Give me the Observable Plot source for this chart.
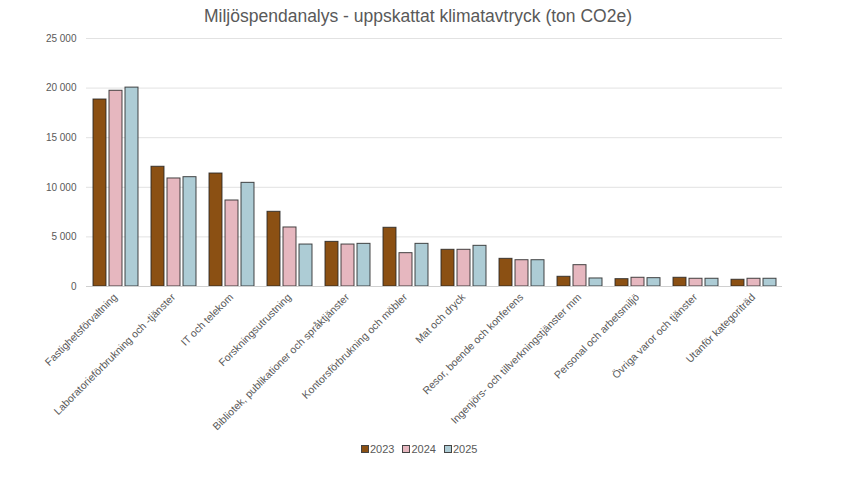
<!DOCTYPE html>
<html>
<head>
<meta charset="utf-8">
<script src="https://cdn.jsdelivr.net/npm/d3@7"></script>
<script src="https://cdn.jsdelivr.net/npm/@observablehq/plot@0.6"></script>
<style>
  html, body { margin: 0; padding: 0; background: #fff; }
  body { width: 848px; height: 477px; position: relative; overflow: hidden; font-family: "Liberation Sans", Arial, sans-serif; }
  #title { position: absolute; left: 0; top: 4px; width: 836px; text-align: center; font-size: 17.5px; color: #595959; line-height: 24px; }
  #chart { position: absolute; left: 0; top: 30px; }
  #legend { position: absolute; left: 361px; top: 441px; font-size: 11px; color: #595959; display: flex; gap: 8px; line-height: 16px; }
  #legend span.item { display: flex; align-items: center; }
  #legend span.sw { display: inline-block; width: 6px; height: 6px; border: 1px solid #444; margin-right: 1px; }
</style>
</head>
<body>
<div id="title">Miljöspendanalys - uppskattat klimatavtryck (ton CO2e)</div>
<div id="chart"></div>
<div id="legend"></div>
<script>
const categories = [
  "Fastighetsförvaltning",
  "Laboratorieförbrukning och -tjänster",
  "IT och telekom",
  "Forskningsutrustning",
  "Bibliotek, publikationer och språktjänster",
  "Kontorsförbrukning och möbler",
  "Mat och dryck",
  "Resor, boende och konferens",
  "Ingenjörs- och tillverkningstjänster mm",
  "Personal och arbetsmiljö",
  "Övriga varor och tjänster",
  "Utanför kategoriträd"
];
const years = ["2023", "2024", "2025"];
const values2023 = [18850, 12070, 11390, 7530, 4500, 5920, 3700, 2790, 980, 740, 880, 680];
const values2024 = [19730, 10890, 8670, 5950, 4230, 3360, 3700, 2650, 2150, 880, 780, 780];
const values2025 = [20050, 11020, 10450, 4230, 4300, 4300, 4100, 2650, 810, 840, 780, 780];
const yTicks = [0, 5000, 10000, 15000, 20000, 25000];
const colors = ["#8B5013", "#E6B7BF", "#ADCCD5"];

const series = [values2023, values2024, values2025];
const data = [];
categories.forEach((c, i) => {
  years.forEach((y, j) => data.push({cat: c, year: y, value: series[j][i]}));
});

const fmt = d3.formatLocale({decimal: ",", thousands: " ", grouping: [3], currency: ["", ""]}).format(",d");

const chart = Plot.plot({
  width: 848,
  height: 410,
  marginLeft: 85,
  marginRight: 66,
  marginTop: 8,
  marginBottom: 154,
  style: {fontFamily: "'Liberation Sans', Arial, sans-serif", color: "#595959", background: "transparent"},
  fx: {domain: categories, padding: 0, label: null},
  x: {domain: years, axis: null, paddingInner: 0.1875, paddingOuter: 0.406},
  y: {domain: [0, 25000], label: null},
  color: {domain: years, range: colors},
  marks: [
    Plot.ruleY(yTicks.filter(d => d > 0), {stroke: "#e2e2e2", strokeWidth: 1}),
    Plot.barY(data, {fx: "cat", x: "year", y: "value", fill: "year", stroke: "#262626", strokeWidth: 1, strokeOpacity: 0.85}),
    Plot.ruleY([0], {stroke: "#d0d0d0", strokeWidth: 1}),
    Plot.axisY({ticks: yTicks, tickFormat: fmt, tickSize: 0, tickPadding: 10, fontSize: 10, label: null}),
    Plot.axisFx({anchor: "bottom", tickRotate: -45, tickSize: 0, tickPadding: 9, fontSize: 10.5, label: null, fill: "#595959"})
  ]
});
document.getElementById("chart").appendChild(chart);

const legend = document.getElementById("legend");
years.forEach((y, j) => {
  const item = document.createElement("span");
  item.className = "item";
  const sw = document.createElement("span");
  sw.className = "sw";
  sw.style.background = colors[j];
  item.appendChild(sw);
  item.appendChild(document.createTextNode(y));
  legend.appendChild(item);
});
</script>
</body>
</html>
